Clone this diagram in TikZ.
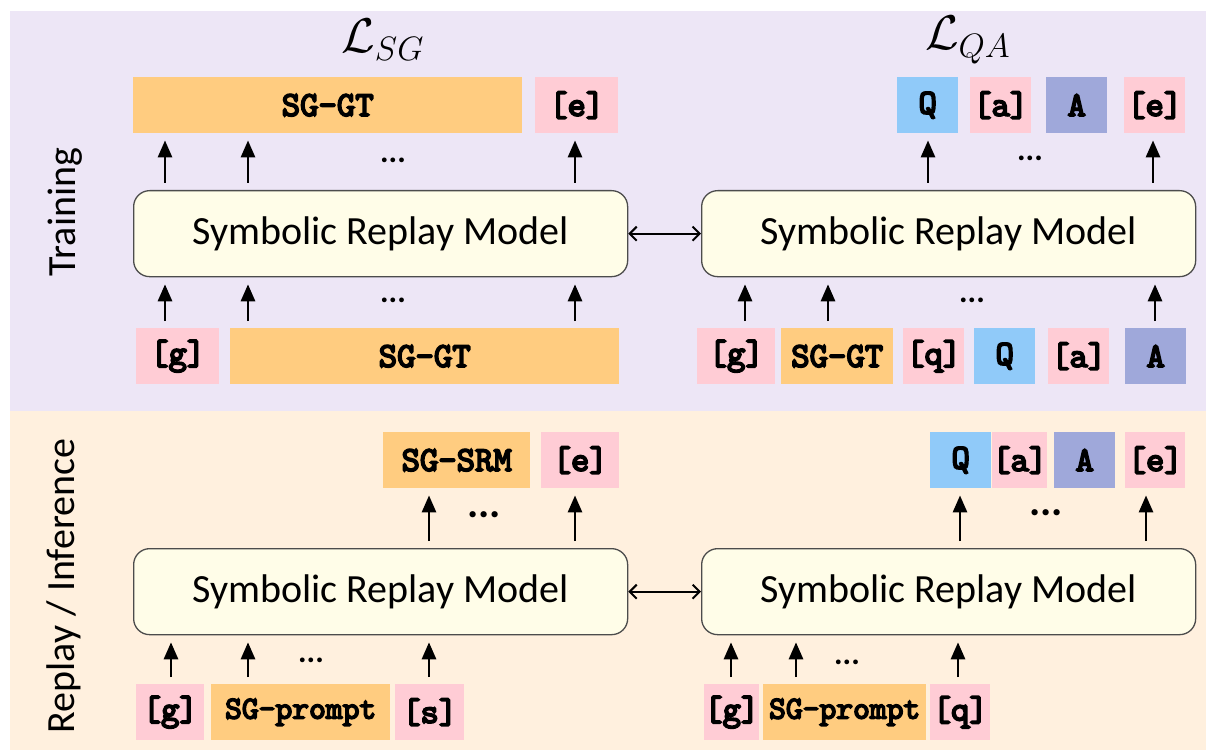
\documentclass[tikz,border=0pt]{standalone}
\usepackage{fontspec}
\setmainfont{Carlito}
\newfontfamily\tokfont{lmmono10-regular}[Extension=.otf, AutoFakeBold=5]
\usetikzlibrary{arrows.meta}

\definecolor{bgtrain}{HTML}{EDE6F6}
\definecolor{bginfer}{HTML}{FFF0DE}
\definecolor{tkpink}{HTML}{FFCCD5}
\definecolor{tkorange}{HTML}{FFCC80}
\definecolor{tkblue}{HTML}{90CAF9}
\definecolor{tkpurple}{HTML}{9FA8DA}
\definecolor{srmfill}{HTML}{FFFDE8}

\tikzset{
  tok/.style={anchor=north west, inner sep=0pt, minimum height=56pt,
    font=\tokfont\bfseries\fontsize{35}{35}\selectfont},
  pinktok/.style={tok, fill=tkpink},
  orangetok/.style={tok, fill=tkorange},
  bluetok/.style={tok, fill=tkblue},
  purpletok/.style={tok, fill=tkpurple},
  prompttok/.style={orangetok, font=\tokfont\bfseries\fontsize{32}{32}\selectfont},
  srm/.style={anchor=north west, draw=black!70, fill=srmfill, line width=1.3pt,
    rounded corners=16pt, minimum width=494pt, minimum height=86pt,
    font=\fontsize{40}{44}\selectfont},
  uparrow/.style={-{Triangle[length=17pt,width=14pt]}, line width=2.8pt,
    shorten <=7pt, shorten >=7pt},
  linkarrow/.style={{Straight Barb[length=7pt,width=14pt]}-{Straight Barb[length=7pt,width=14pt]},
    line width=2pt},
  dots/.style={font=\bfseries\fontsize{32}{32}\selectfont},
  widedots/.style={font=\bfseries\fontsize{42}{42}\selectfont},
  side/.style={rotate=90, font=\fontsize{40}{44}\selectfont},
  losslbl/.style={scale=2.35, font=\huge},
}

\begin{document}
\begin{tikzpicture}[x=1pt, y=-1pt]
\useasboundingbox (0,0) rectangle (1206,751);

% panels
\fill[bgtrain] (10,11) rectangle (1206,411);
\fill[bginfer] (10,411) rectangle (1206,750);

\node[side] (trainlbl) at (65,212) {Training};
\node[side] (inferlbl) at (64,586) {Replay / Inference};

% ---------------- training, scene-graph branch ----------------
\node[losslbl] (lsg) at (383,40) {$\mathcal{L}_{SG}$};
\node[orangetok, minimum width=389pt] (tsgout) at (133,77) {SG-GT};
\node[pinktok, minimum width=83pt] (teout) at (535,77) {[e]};
\node[srm] (srmA) at (133,190) {Symbolic Replay Model};
\node[pinktok, minimum width=83pt] (tgin) at (136,328) {[g]};
\node[orangetok, minimum width=389pt] (tsgin) at (230,328) {SG-GT};

\draw[uparrow] (165,0 |- srmA.north) -- (165,0 |- tsgout.south);
\draw[uparrow] (248,0 |- srmA.north) -- (248,0 |- tsgout.south);
\draw[uparrow] (575,0 |- srmA.north) -- (575,0 |- teout.south);
\node[dots] (dA1) at (393,160) {...};

\draw[uparrow] (165,0 |- tgin.north) -- (165,0 |- srmA.south);
\draw[uparrow] (248,0 |- tsgin.north) -- (248,0 |- srmA.south);
\draw[uparrow] (575,0 |- tsgin.north) -- (575,0 |- srmA.south);
\node[dots] (dA2) at (393,300) {...};

% ---------------- training, QA branch ----------------
\node[losslbl] (lqa) at (968,40) {$\mathcal{L}_{QA}$};
\node[bluetok, minimum width=61pt] (tqout) at (897,77) {Q};
\node[pinktok, minimum width=61pt] (taout) at (970,77) {[a]};
\node[purpletok, minimum width=61pt] (tAout) at (1046,77) {A};
\node[pinktok, minimum width=61pt] (te2out) at (1124,77) {[e]};
\node[srm] (srmB) at (701,190) {Symbolic Replay Model};
\node[pinktok, minimum width=78pt] (tg2in) at (697,328) {[g]};
\node[orangetok, minimum width=112pt] (tsg2in) at (781,328) {SG-GT};
\node[pinktok, minimum width=61pt] (tqin) at (903,328) {[q]};
\node[bluetok, minimum width=61pt] (tQin) at (974,328) {Q};
\node[pinktok, minimum width=61pt] (tain) at (1048,328) {[a]};
\node[purpletok, minimum width=61pt] (tAin) at (1125,328) {A};

\draw[uparrow] (928,0 |- srmB.north) -- (928,0 |- tqout.south);
\draw[uparrow] (1153,0 |- srmB.north) -- (1153,0 |- te2out.south);
\node[dots] (dB1) at (1030,158) {...};

\draw[uparrow] (745,0 |- tg2in.north) -- (745,0 |- srmB.south);
\draw[uparrow] (828,0 |- tsg2in.north) -- (828,0 |- srmB.south);
\draw[uparrow] (1155,0 |- tAin.north) -- (1155,0 |- srmB.south);
\node[dots] (dB2) at (972,300) {...};

\draw[linkarrow] (srmA.east) -- (srmB.west);

% ---------------- replay / inference, scene-graph branch ----------------
\node[orangetok, minimum width=147pt] (isgout) at (383,432) {SG-SRM};
\node[pinktok, minimum width=78pt] (ieout) at (541,432) {[e]};
\node[srm] (srmC) at (133,548) {Symbolic Replay Model};
\node[pinktok, minimum width=68pt] (igin) at (136,684) {[g]};
\node[prompttok, minimum width=179pt] (ipin) at (211,684) {SG-prompt};
\node[pinktok, minimum width=69pt] (isin) at (395,684) {[s]};

\draw[uparrow] (429,0 |- srmC.north) -- (429,0 |- isgout.south);
\draw[uparrow] (575,0 |- srmC.north) -- (575,0 |- ieout.south);
\node[widedots] (dC1) at (484,515) {...};

\draw[uparrow] (171,0 |- igin.north) -- (171,0 |- srmC.south);
\draw[uparrow] (248,0 |- ipin.north) -- (248,0 |- srmC.south);
\draw[uparrow] (429,0 |- isin.north) -- (429,0 |- srmC.south);
\node[dots] (dC2) at (311,660) {...};

% ---------------- replay / inference, QA branch ----------------
\node[bluetok, minimum width=61pt] (iqout) at (930,432) {Q};
\node[pinktok, minimum width=53pt] (iaout) at (992,432) {[a]};
\node[purpletok, minimum width=61pt] (iAout) at (1054,432) {A};
\node[pinktok, minimum width=60pt] (ie2out) at (1125,432) {[e]};
\node[srm] (srmD) at (701,548) {Symbolic Replay Model};
\node[pinktok, minimum width=54pt] (ig2in) at (704,684) {[g]};
\node[prompttok, minimum width=163pt] (ip2in) at (763,684) {SG-prompt};
\node[pinktok, minimum width=60pt] (iqin) at (930,684) {[q]};

\draw[uparrow] (960,0 |- srmD.north) -- (960,0 |- iqout.south);
\draw[uparrow] (1146,0 |- srmD.north) -- (1146,0 |- ie2out.south);
\node[widedots] (dD1) at (1046,513) {...};

\draw[uparrow] (731,0 |- ig2in.north) -- (731,0 |- srmD.south);
\draw[uparrow] (796,0 |- ip2in.north) -- (796,0 |- srmD.south);
\draw[uparrow] (958,0 |- iqin.north) -- (958,0 |- srmD.south);
\node[dots] (dD2) at (847,662) {...};

\draw[linkarrow] (srmC.east) -- (srmD.west);
\end{tikzpicture}
\end{document}
